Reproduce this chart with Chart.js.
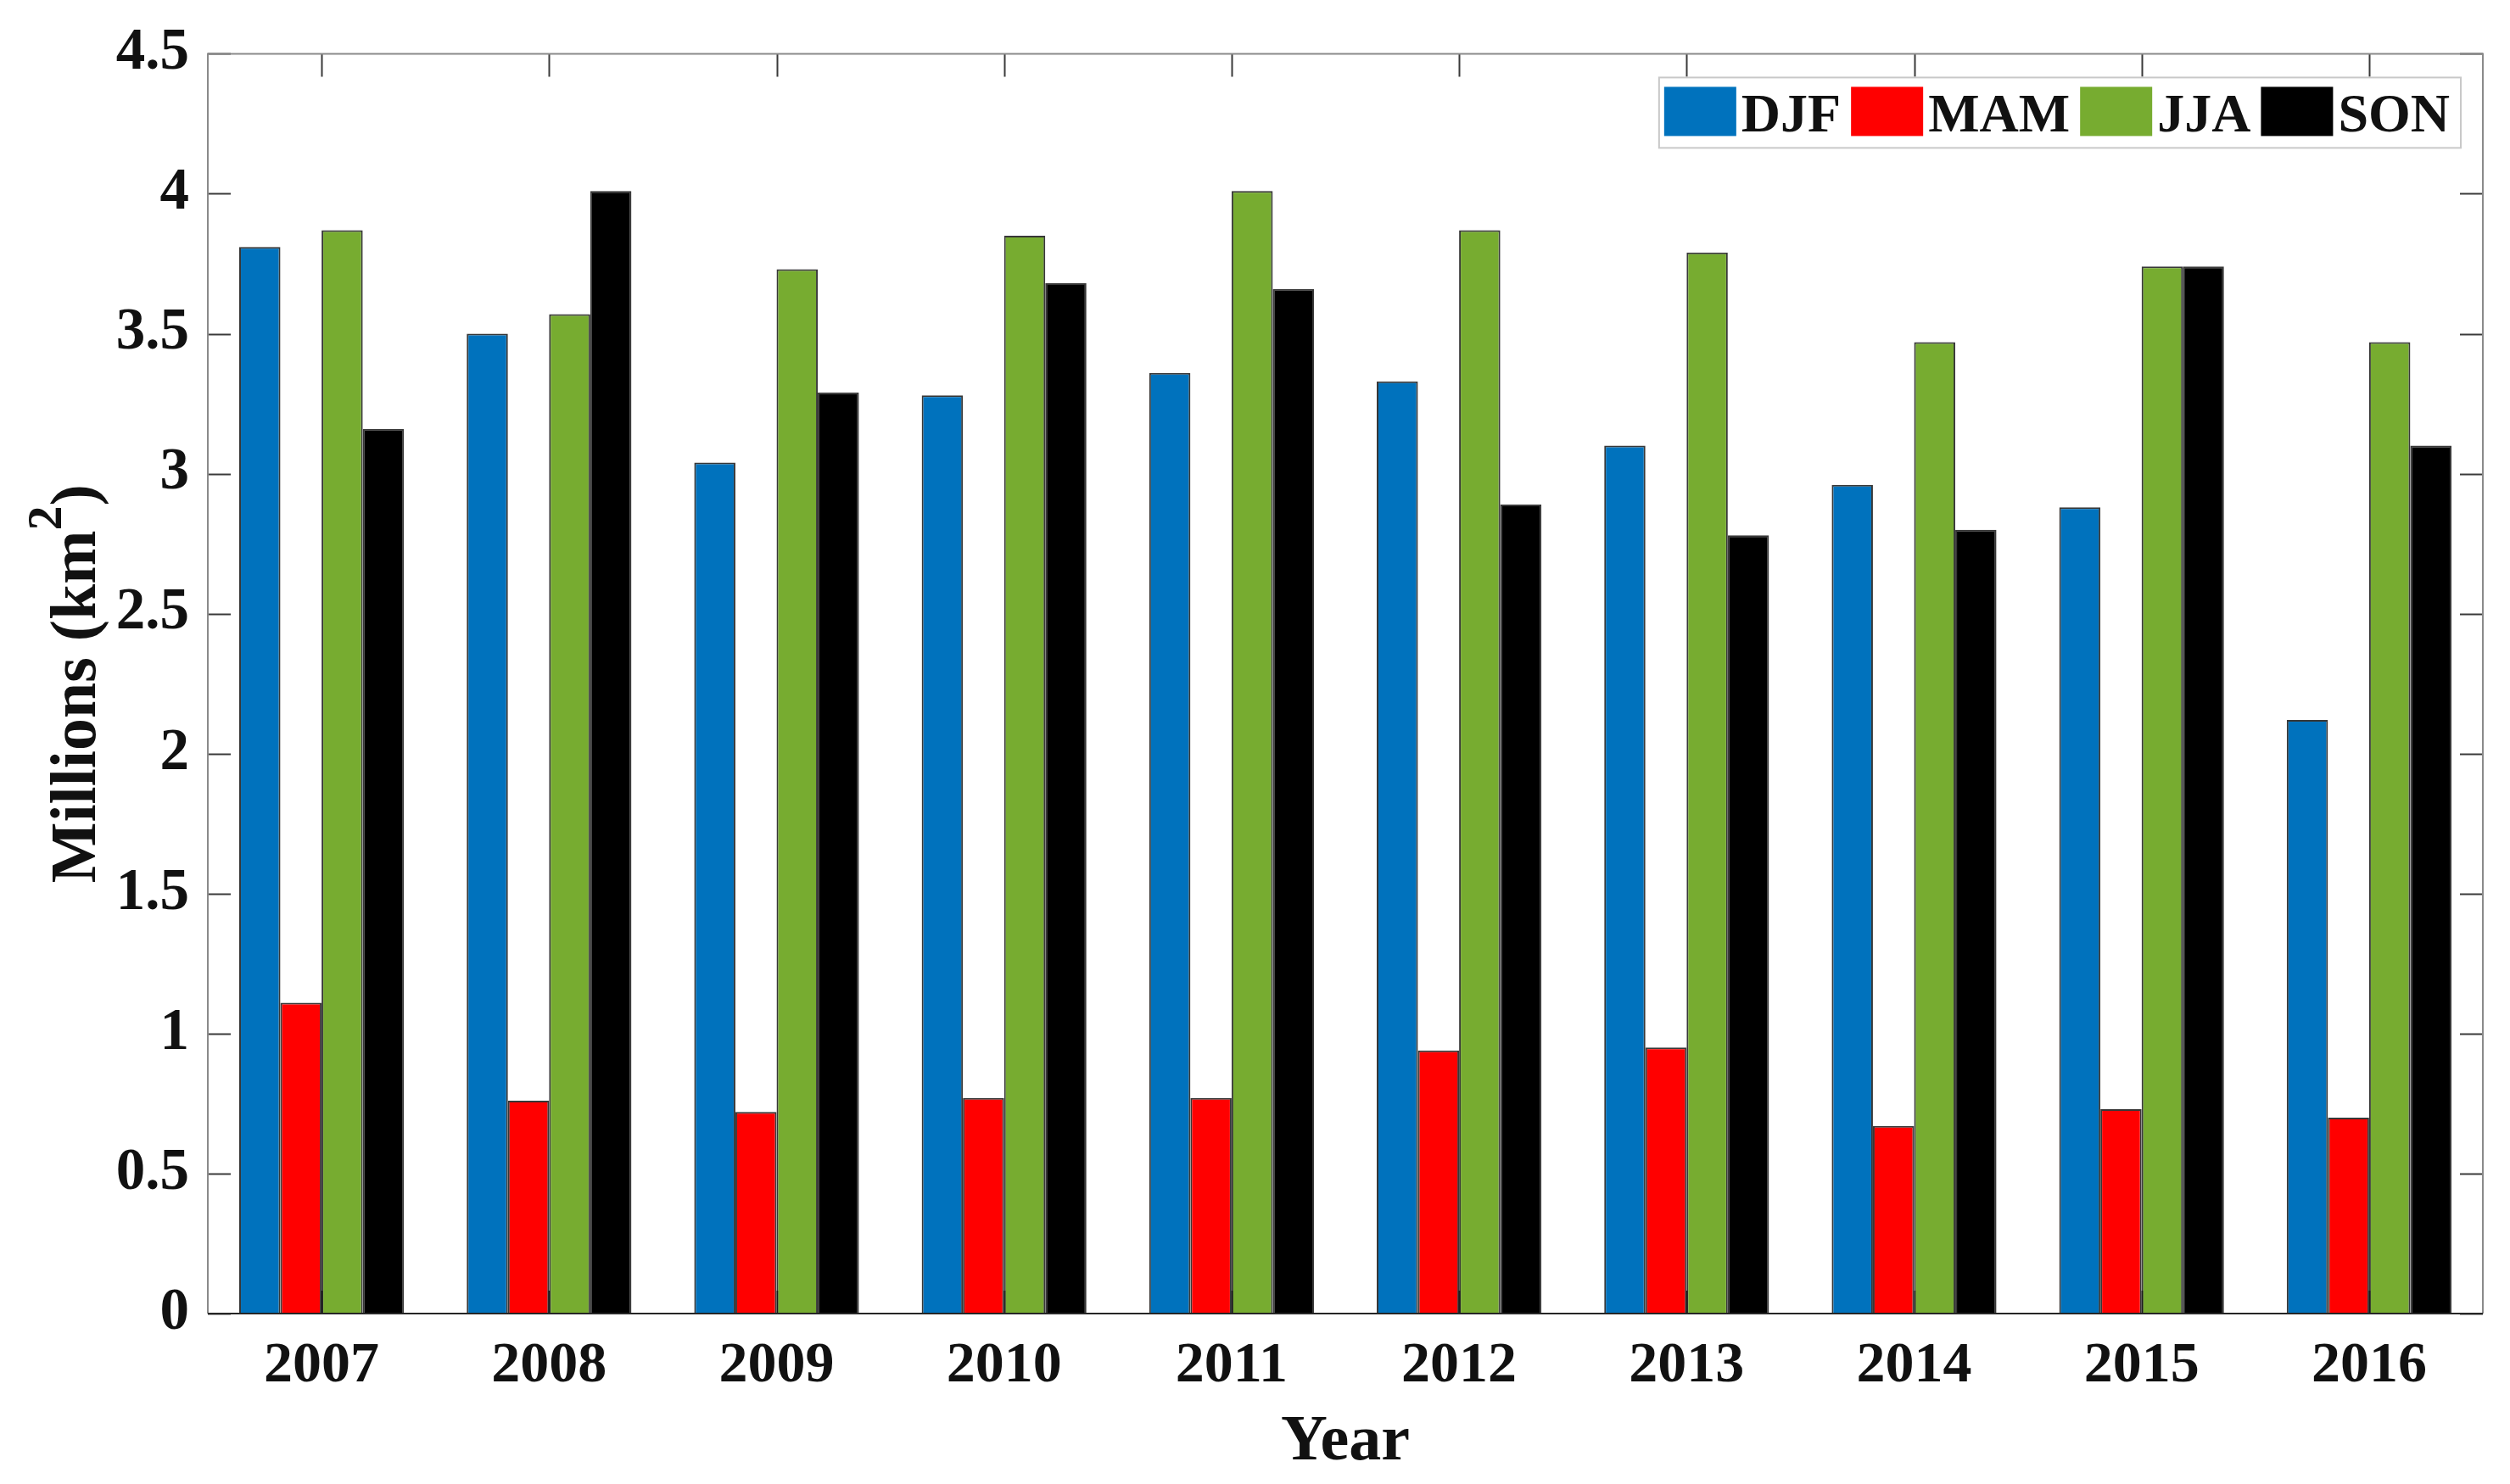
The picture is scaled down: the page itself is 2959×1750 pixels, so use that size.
<!DOCTYPE html>
<html>
<head>
<meta charset="utf-8">
<script src="https://cdn.jsdelivr.net/npm/chart.js@4.4.1/dist/chart.umd.min.js"></script>
<style>
html, body { margin: 0; padding: 0; background: #fff; }
#grafico { display: block; }
</style>
</head>
<body>
<canvas id="grafico" width="2959" height="1750"></canvas>
<script>

var anos = ["2007", "2008", "2009", "2010", "2011", "2012", "2013", "2014", "2015", "2016"];
var estacoes = ["DJF", "MAM", "JJA", "SON"];

var djf = [3.81, 3.50, 3.04, 3.28, 3.36, 3.33, 3.10, 2.96, 2.88, 2.12];
var mam = [1.11, 0.76, 0.72, 0.77, 0.77, 0.94, 0.95, 0.67, 0.73, 0.70];
var jja = [3.87, 3.57, 3.73, 3.85, 4.01, 3.87, 3.79, 3.47, 3.74, 3.47];
var son = [3.16, 4.01, 3.29, 3.68, 3.66, 2.89, 2.78, 2.80, 3.74, 3.10];

var yTicks = [0, 0.5, 1, 1.5, 2, 2.5, 3, 3.5, 4, 4.5];
var yTickLabels = ["0", "0.5", "1", "1.5", "2", "2.5", "3", "3.5", "4", "4.5"];

var cores = ["#0072BD", "#FF0000", "#77AC30", "#000000"];
var fonte = "'Liberation Serif', 'Times New Roman', serif";

// caixa do eixo com ticks para dentro (estilo MATLAB)
var caixa = {
	id: 'caixa',
	beforeDatasetsDraw: function(chart) {
		var ctx = chart.ctx, a = chart.chartArea;
		var sx = chart.scales.x, sy = chart.scales.y;
		ctx.save();
		ctx.strokeStyle = '#3a3a3a';
		ctx.lineWidth = 2;
		ctx.beginPath();
		yTicks.forEach(function(v) {
			var py = Math.round(sy.getPixelForValue(v)) + 0.5;
			ctx.moveTo(a.left, py); ctx.lineTo(a.left + 27, py);
			ctx.moveTo(a.right, py); ctx.lineTo(a.right - 27, py);
		});
		anos.forEach(function(ano, i) {
			var px = Math.round(sx.getPixelForTick(i)) + 0.5;
			ctx.moveTo(px, a.top); ctx.lineTo(px, a.top + 27);
			ctx.moveTo(px, a.bottom); ctx.lineTo(px, a.bottom - 27);
		});
		ctx.stroke();
		ctx.restore();
	},
	afterDatasetsDraw: function(chart) {
		var ctx = chart.ctx, a = chart.chartArea;
		ctx.save();
		ctx.lineWidth = 2;
		ctx.strokeStyle = '#8a8a8a';
		ctx.beginPath();
		ctx.moveTo(a.left, a.bottom);
		ctx.lineTo(a.left, a.top);
		ctx.lineTo(a.right, a.top);
		ctx.lineTo(a.right, a.bottom);
		ctx.stroke();
		ctx.strokeStyle = '#262626';
		ctx.beginPath();
		ctx.moveTo(a.left, a.bottom);
		ctx.lineTo(a.right, a.bottom);
		ctx.stroke();
		ctx.restore();
	}
};

// titulo do eixo y com expoente de verdade
var tituloY = {
	id: 'tituloY',
	afterDraw: function(chart) {
		var ctx = chart.ctx, a = chart.chartArea;
		var principal = "Millions (km", expoente = "2", fecha = ")";
		ctx.save();
		ctx.fillStyle = '#111';
		ctx.textBaseline = 'alphabetic';
		ctx.textAlign = 'left';
		ctx.font = "bold 76px " + fonte;
		var w1 = ctx.measureText(principal).width;
		var w3 = ctx.measureText(fecha).width;
		ctx.font = "bold 58px " + fonte;
		var w2 = ctx.measureText(expoente).width;
		var total = w1 + w2 + w3;
		ctx.translate(85, (a.top + a.bottom) / 2);
		ctx.rotate(-Math.PI / 2);
		var x = -total / 2;
		ctx.font = "bold 76px " + fonte;
		ctx.fillText(principal, x, 27);
		ctx.font = "bold 58px " + fonte;
		ctx.fillText(expoente, x + w1, -13);
		ctx.font = "bold 76px " + fonte;
		ctx.fillText(fecha, x + w1 + w2, 27);
		ctx.restore();
	}
};

// legenda horizontal no canto superior direito
var legenda = {
	id: 'legenda',
	afterDraw: function(chart) {
		var ctx = chart.ctx, a = chart.chartArea;
		var ds = chart.data.datasets;
		ctx.save();
		ctx.font = "bold 64px " + fonte;
		var larg = 6;
		var textos = ds.map(function(d) { return ctx.measureText(d.label).width; });
		textos.forEach(function(w, i) { larg += 85 + 6 + w + (i < textos.length - 1 ? 12 : 13); });
		var alt = 83;
		var x0 = a.right - 26 - larg;
		var y0 = a.top + 28;
		ctx.fillStyle = '#fff';
		ctx.fillRect(x0, y0, larg, alt);
		ctx.strokeStyle = '#c8c8c8';
		ctx.lineWidth = 2;
		ctx.strokeRect(x0, y0, larg, alt);
		var x = x0 + 6;
		ds.forEach(function(d, i) {
			ctx.fillStyle = d.backgroundColor;
			ctx.fillRect(x, y0 + 11, 85, 58);
			x += 85 + 6;
			ctx.fillStyle = '#111';
			ctx.textBaseline = 'alphabetic';
			ctx.textAlign = 'left';
			ctx.fillText(d.label, x, y0 + 64);
			x += textos[i] + 12;
		});
		ctx.restore();
	}
};

function exibirGrafico() {

	var series = [djf, mam, jja, son];

	var data = {
		labels: anos,
		datasets: series.map(function(s, i) {
			return {
				label: estacoes[i],
				data: s,
				backgroundColor: cores[i],
				borderColor: 'rgba(20,20,20,0.85)',
				borderWidth: 2,
				categoryPercentage: 0.724,
				barPercentage: 1.0
			};
		})
	};

	var options = {
		responsive: false,
		animation: false,
		devicePixelRatio: 1,
		layout: { padding: { left: 0, top: 50, right: 32, bottom: 0 } },
		plugins: {
			legend: { display: false },
			tooltip: { enabled: false }
		},
		scales: {
			x: {
				grid: { display: false, drawTicks: false },
				border: { display: false },
				ticks: {
					color: '#111',
					padding: 22,
					font: { family: fonte, size: 68, weight: 'bold' }
				},
				title: {
					display: true,
					text: 'Year',
					color: '#111',
					padding: { top: 0, bottom: 3 },
					font: { family: fonte, size: 76, weight: 'bold' }
				},
				afterFit: function(scale) { scale.height = 201; }
			},
			y: {
				min: 0,
				max: 4.5,
				grid: { display: false, drawTicks: false },
				border: { display: false },
				afterBuildTicks: function(scale) {
					scale.ticks = yTicks.map(function(v) { return { value: v }; });
				},
				ticks: {
					color: '#111',
					padding: 22,
					font: { family: fonte, size: 69, weight: 'bold' },
					callback: function(value) {
						var i = yTicks.indexOf(value);
						return i >= 0 ? yTickLabels[i] : '';
					}
				},
				title: { display: false },
				afterFit: function(scale) { scale.width = 245; }
			}
		}
	};

	var ctx = document.getElementById("grafico").getContext("2d");
	new Chart(ctx, { type: 'bar', data: data, options: options, plugins: [caixa, tituloY, legenda] });
}

exibirGrafico();

</script>
</body>
</html>
